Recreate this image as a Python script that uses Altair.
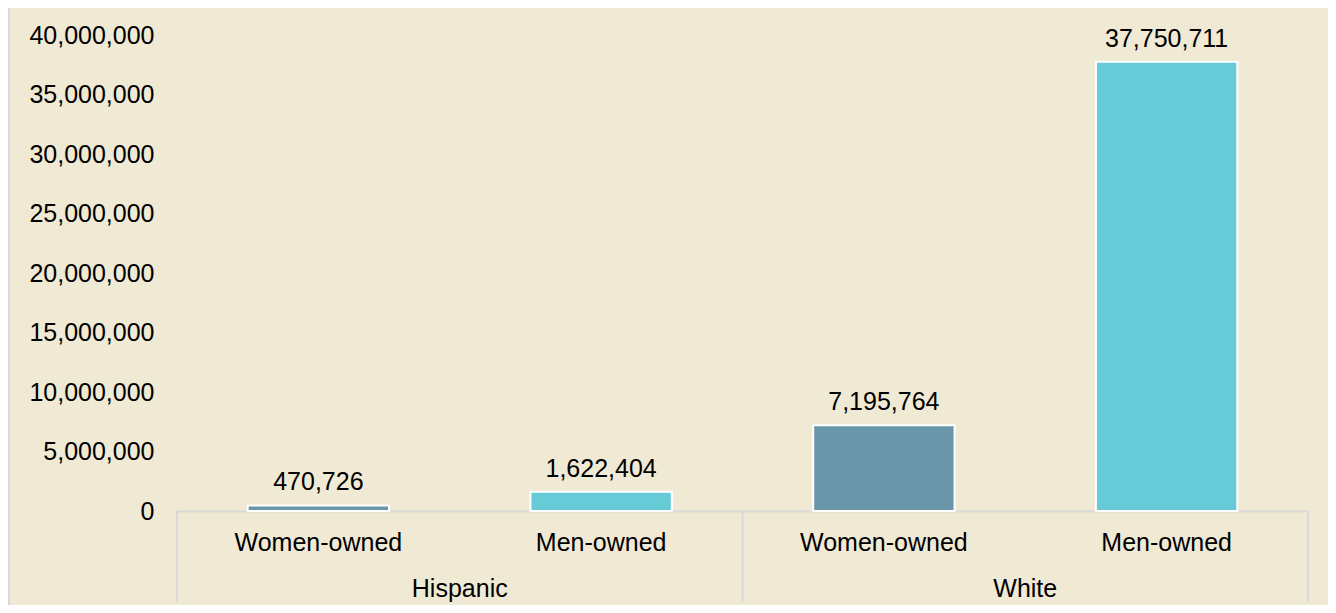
import altair as alt
import pandas as pd

# ---- data ----
groups = ["Hispanic", "Hispanic", "White", "White"]
owners = ["Women-owned", "Men-owned", "Women-owned", "Men-owned"]
values = [470726, 1622404, 7195764, 37750711]
group_names = ["Hispanic", "White"]
y_ticks = [0, 5000000, 10000000, 15000000, 20000000, 25000000, 30000000, 35000000, 40000000]

FONT = "Liberation Sans"
FS = 25
GRAY = "#D9D9D9"
BG = "#F0E9D4"

df = pd.DataFrame({"group": groups, "owner": owners, "value": values})
df["key"] = df["group"] + "|" + df["owner"]
keys = list(df["key"])

# group label anchors: boundary between the two bars of each group
grp_df = pd.DataFrame({"group": group_names,
                       "key": [f"{g}|Men-owned" for g in group_names]})
# separators at start of each group, and end of the last
sep_start = pd.DataFrame({"key": [f"{g}|Women-owned" for g in group_names]})
sep_end = pd.DataFrame({"key": [keys[-1]]})

xscale = alt.Scale(domain=keys, paddingInner=0, paddingOuter=0)

base = alt.Chart(df)

bars = base.mark_bar(width=alt.RelativeBandSize(0.5), stroke="white", strokeWidth=2).encode(
    x=alt.X("key:N", scale=xscale,
            axis=alt.Axis(labels=False, ticks=False, title=None, grid=False,
                          domainColor=GRAY, domainWidth=2)),
    y=alt.Y("value:Q", scale=alt.Scale(domain=[0, 40000000], nice=False),
            axis=alt.Axis(values=y_ticks, format=",d", labelFontSize=FS, labelFont=FONT,
                          labelColor="#000000", labelPadding=23, domain=False,
                          ticks=False, grid=False, title=None)),
    color=alt.Color("owner:N",
                    scale=alt.Scale(domain=["Women-owned", "Men-owned"],
                                    range=["#6A96AA", "#66CBD7"]),
                    legend=None),
)

value_labels = base.mark_text(baseline="alphabetic", dy=-15, fontSize=FS, font=FONT,
                              color="#000000").encode(
    x=alt.X("key:N", scale=xscale),
    y=alt.Y("value:Q"),
    text=alt.Text("value:Q", format=",d"),
)

cat_labels = base.mark_text(baseline="alphabetic", fontSize=FS, font=FONT,
                            color="#000000").encode(
    x=alt.X("key:N", scale=xscale),
    y=alt.value(516),
    text="owner:N",
)

group_labels = alt.Chart(grp_df).mark_text(baseline="alphabetic", fontSize=FS, font=FONT,
                                           color="#000000").encode(
    x=alt.X("key:N", scale=xscale, bandPosition=0),
    y=alt.value(562),
    text="group:N",
)

sep1 = alt.Chart(sep_start).mark_rule(color=GRAY, strokeWidth=2).encode(
    x=alt.X("key:N", scale=xscale, bandPosition=0),
    y=alt.value(476), y2=alt.value(567),
)
sep2 = alt.Chart(sep_end).mark_rule(color=GRAY, strokeWidth=2).encode(
    x=alt.X("key:N", scale=xscale, bandPosition=1),
    y=alt.value(476), y2=alt.value(567),
)

left_border = alt.Chart(grp_df).mark_rule(color=GRAY, strokeWidth=2).encode(
    x=alt.value(-168), y=alt.value(-27), y2=alt.value(570),
)

chart = alt.layer(left_border, bars, value_labels, cat_labels, group_labels, sep1, sep2).properties(
    width=1131, height=476,
    background=BG,
    padding={"left": 169, "top": 27, "right": 20, "bottom": 94},
    autosize=alt.AutoSizeParams(type="none"),
).configure_view(stroke=None)

chart.save("out.html", embed_options={"renderer": "svg", "actions": False})
